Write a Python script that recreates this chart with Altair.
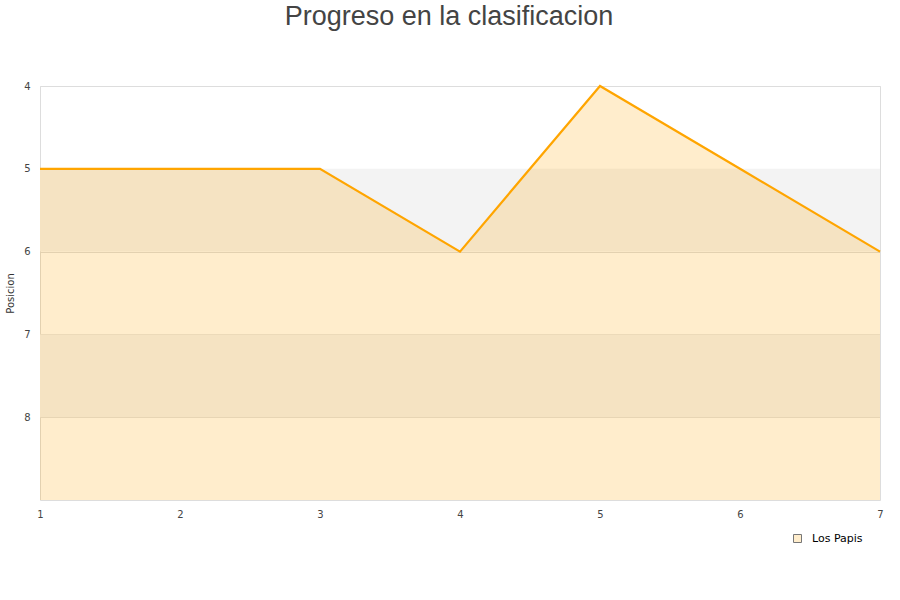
import altair as alt
import pandas as pd

# Standings progress per matchday (lower number = better position)
jornadas = [1, 2, 3, 4, 5, 6, 7]
posiciones = [5, 5, 5, 6, 4, 5, 6]
equipo = "Los Papis"

# Alternating background bands on the position axis
banda_desde = [5, 7]
banda_hasta = [6, 8]

y_min, y_max = 4, 9

df = pd.DataFrame({"jornada": jornadas, "posicion": posiciones, "base": [y_max] * len(jornadas)})
bands = pd.DataFrame({"y0": banda_desde, "y1": banda_hasta})
leg = pd.DataFrame({"jornada": [1], "posicion": [y_max], "serie": [equipo]})

W, H = 840, 414

yscale = alt.Scale(domain=[y_min, y_max], reverse=True, nice=False, zero=False)
xscale = alt.Scale(domain=[1, 7], nice=False, zero=False)

band_layer = alt.Chart(bands).mark_rect(color="#f3f3f3").encode(
    x=alt.value(0),
    x2=alt.value(W),
    y=alt.Y("y0:Q", scale=yscale),
    y2="y1:Q",
)

x_axis = alt.Axis(
    values=jornadas, format="d", title=None, grid=False, ticks=False, domain=False,
    labelFont="DejaVu Sans", labelFontSize=10, labelColor="#444444", labelPadding=9,
    labelFlush=False,
)
y_axis = alt.Axis(
    values=[4, 5, 6, 7, 8], format="d", title="Posicion", grid=True, gridColor="#dddddd",
    ticks=False, domain=False, labelFont="DejaVu Sans", labelFontSize=10,
    labelColor="#444444", labelPadding=10, labelFlush=False, titleFont="DejaVu Sans",
    titleFontSize=10, titleFontWeight="normal", titleColor="#333333", titlePadding=8,
)

area_layer = alt.Chart(df).mark_area(color="#FFA500", fillOpacity=0.2, interpolate="linear").encode(
    x=alt.X("jornada:Q", scale=xscale, axis=x_axis),
    y=alt.Y("posicion:Q", scale=yscale, axis=y_axis),
    y2="base:Q",
)

line_layer = alt.Chart(df).mark_line(color="#FFA500", strokeWidth=2.2).encode(
    x=alt.X("jornada:Q", scale=xscale),
    y=alt.Y("posicion:Q", scale=yscale),
)

legend_layer = alt.Chart(leg).mark_square(size=0, opacity=0).encode(
    x=alt.X("jornada:Q", scale=xscale),
    y=alt.Y("posicion:Q", scale=yscale),
    fill=alt.Fill(
        "serie:N",
        scale=alt.Scale(domain=[equipo], range=["#FFEDCC"]),
        legend=alt.Legend(
            title=None, orient="none", legendX=752, legendY=447,
            symbolType="square", symbolSize=64, symbolOpacity=1,
            symbolStrokeColor="#777777", symbolStrokeWidth=1,
            labelFont="DejaVu Sans", labelFontSize=11, labelColor="#000000",
            padding=0, labelOffset=9,
        ),
    ),
)

chart = (
    alt.layer(band_layer, area_layer, line_layer, legend_layer)
    .properties(
        width=W,
        height=H,
        autosize=alt.AutoSizeParams(type="none"),
        padding={"left": 40, "top": 86, "right": 20, "bottom": 100},
        title=alt.TitleParams(
            "Progreso en la clasificacion", font="Liberation Sans", fontSize=27,
            fontWeight="normal", color="#444444", anchor="middle", dx=-11,
            baseline="alphabetic", offset=29,
        ),
    )
    .configure_view(stroke="#dddddd", strokeWidth=1)
    .configure(background="white")
)

chart.save("out.html", embed_options={"renderer": "svg", "actions": False})
